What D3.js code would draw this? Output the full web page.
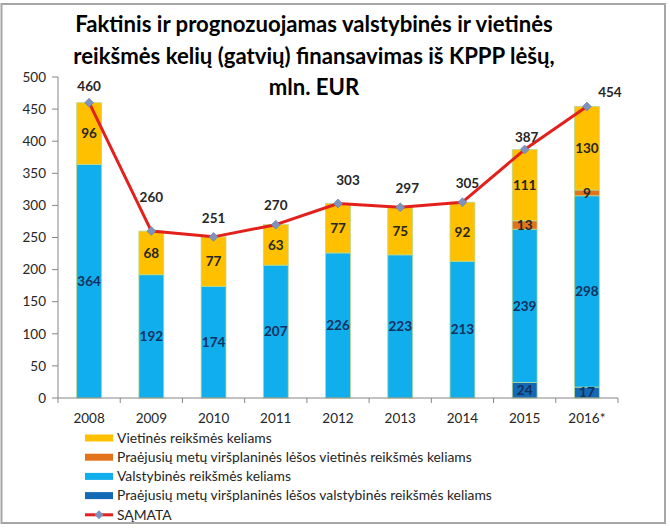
<!DOCTYPE html>
<html><head><meta charset="utf-8">
<script src="https://cdn.jsdelivr.net/npm/d3@7"></script>
<style>body{margin:0;background:#fff}svg{display:block}</style>
</head><body>
<script>
// ---------- DATA ----------
const years = ["2008","2009","2010","2011","2012","2013","2014","2015","2016*"];
const prevState = [0,0,0,0,0,0,0,24,17];          // Praėjusių metų viršplaninės lėšos valstybinės reikšmės keliams
const stateRoads = [364,192,174,207,226,223,213,239,298]; // Valstybinės reikšmės keliams
const prevLocal = [0,0,0,0,0,0,0,13,9];            // Praėjusių metų viršplaninės lėšos vietinės reikšmės keliams
const localRoads = [96,68,77,63,77,75,92,111,130]; // Vietinės reikšmės keliams
const samata = [460,260,251,270,303,297,305,387,454]; // SĄMATA
const yTicks = [0,50,100,150,200,250,300,350,400,450,500];
const titleLines = ["Faktinis ir prognozuojamas valstybinės ir vietinės","reikšmės kelių (gatvių) finansavimas iš KPPP lėšų,","mln. EUR"];
const legendLabels = ["Vietinės reikšmės keliams","Praėjusių metų viršplaninės lėšos vietinės reikšmės keliams","Valstybinės reikšmės keliams","Praėjusių metų viršplaninės lėšos valstybinės reikšmės keliams","SĄMATA"];

// ---------- LAYOUT / STYLE ----------
const W = 670, H = 528;
const font = "Lato, 'Open Sans', sans-serif";
const colors = {prevState:"#1469B4", state:"#10AEEC", prevLocal:"#E2731C", local:"#FFC000", line:"#E3201C", marker:"#7D93BD"};
const labelNudge = [[0,-16],[0,-34],[0,-19],[0,-19],[10,-23],[7,-19],[5,-19],[2,-12],[23,-14]];

const svg = d3.select("body").append("svg").attr("width",W).attr("height",H);
svg.append("rect").attr("x",1.5).attr("y",4).attr("width",663.5).attr("height",519)
  .attr("fill","#fff").attr("stroke","#A6A6A6").attr("stroke-width",2);

const x = d3.scaleBand().domain(years).range([58,618]).paddingInner(0.6).paddingOuter(0.3);
const y = d3.scaleLinear().domain([0,500]).range([398,77]);

// fit helper
function fitSize(text, weight, target, base){
  const t = svg.append("text").style("font-family",font).style("font-weight",weight).style("font-size",base+"px").text(text);
  const w = t.node().getComputedTextLength(); t.remove();
  return base*target/w;
}

// title
const tSize = fitSize(titleLines[0],"bold",478,20);
svg.append("g").selectAll("text").data(titleLines).join("text")
  .attr("x",314).attr("y",(d,i)=>32+i*31.5).attr("text-anchor","middle")
  .style("font-family",font).style("font-weight","bold").style("font-size",tSize+"px").attr("fill","#000")
  .text(d=>d);

// stack
const rows = years.map((yr,i)=>({year:yr, prevState:prevState[i], state:stateRoads[i], prevLocal:prevLocal[i], local:localRoads[i]}));
const keys = ["prevState","state","prevLocal","local"];
const stack = d3.stack().keys(keys)(rows);
const labelColor = {prevState:"#14305C", state:"#13315E", prevLocal:"#262626", local:"#262626"};

const gBars = svg.append("g");
stack.forEach(layer=>{
  const k = layer.key;
  gBars.selectAll(null).data(layer.filter(d=>d[1]-d[0]>0)).join("rect")
    .attr("x",d=>x(d.data.year)).attr("width",x.bandwidth())
    .attr("y",d=>y(d[1])).attr("height",d=>y(d[0])-y(d[1]))
    .attr("fill",colors[k]).attr("stroke","#B9D98F").attr("stroke-width",0.8);
});
stack.forEach(layer=>{
  const k = layer.key;
  gBars.selectAll(null).data(layer.filter(d=>d[1]-d[0]>0)).join("text")
    .attr("x",d=>x(d.data.year)+x.bandwidth()/2).attr("y",d=>y((d[0]+d[1])/2)).attr("dy","0.36em")
    .attr("text-anchor","middle").style("font-family",font).style("font-weight","bold").style("font-size","13.5px")
    .attr("fill",labelColor[k]).text(d=>d[1]-d[0]);
});

// axes
const ax = svg.append("g");
ax.append("line").attr("x1",58).attr("x2",58).attr("y1",y(500)).attr("y2",y(0)).attr("stroke","#868686");
ax.append("line").attr("x1",58).attr("x2",618).attr("y1",y(0)).attr("y2",y(0)).attr("stroke","#868686");
ax.selectAll(".yt").data(yTicks).join("line").attr("x1",52).attr("x2",58).attr("y1",d=>y(d)).attr("y2",d=>y(d)).attr("stroke","#868686");
ax.selectAll(".yl").data(yTicks).join("text").attr("x",46).attr("y",d=>y(d)).attr("dy","0.35em").attr("text-anchor","end")
  .style("font-family",font).style("font-size","13.5px").attr("fill","#262626").text(d=>d);
ax.selectAll(".xt").data(d3.range(years.length+1)).join("line")
  .attr("x1",i=>58+i*(560/years.length)).attr("x2",i=>58+i*(560/years.length)).attr("y1",y(0)).attr("y2",y(0)+5).attr("stroke","#868686");
ax.selectAll(".xl").data(years).join("text").attr("x",d=>x(d)+x.bandwidth()/2).attr("y",418).attr("dy","0.35em")
  .attr("text-anchor","middle").style("font-family",font).style("font-size","13.5px").attr("fill","#262626").text(d=>d);

// line
const cx = (d,i)=>x(years[i])+x.bandwidth()/2;
svg.append("path").datum(samata).attr("fill","none").attr("stroke",colors.line).attr("stroke-width",3).attr("stroke-linejoin","round")
  .attr("d",d3.line().x((d,i)=>cx(d,i)).y(d=>y(d)));
const diamond = d3.symbol().type(d3.symbolSquare).size(40);
svg.selectAll(".mk").data(samata).join("path").attr("d",diamond)
  .attr("transform",(d,i)=>`translate(${cx(d,i)},${y(d)}) rotate(45)`).attr("fill",colors.marker).attr("stroke","#6A80AA").attr("stroke-width",0.6);
svg.selectAll(".ll").data(samata).join("text")
  .attr("x",(d,i)=>cx(d,i)+labelNudge[i][0]).attr("y",(d,i)=>y(d)+labelNudge[i][1]).attr("dy","0.35em").attr("text-anchor","middle")
  .style("font-family",font).style("font-weight","bold").style("font-size","13.5px").attr("fill","#262626").text(d=>d);

// legend
const lSize = fitSize(legendLabels[3],"normal",375,13);
const legColors = [colors.local,colors.prevLocal,colors.state,colors.prevState];
const lg = svg.append("g");
legendLabels.forEach((lab,i)=>{
  const yy = 438 + i*19.2;
  if(i<4){
    lg.append("rect").attr("x",85).attr("y",yy-3.5).attr("width",28).attr("height",7).attr("fill",legColors[i]);
  } else {
    lg.append("line").attr("x1",85).attr("x2",113).attr("y1",yy).attr("y2",yy).attr("stroke",colors.line).attr("stroke-width",3);
    lg.append("path").attr("d",diamond).attr("transform",`translate(99,${yy}) rotate(45)`).attr("fill",colors.marker);
  }
  lg.append("text").attr("x",117).attr("y",yy).attr("dy","0.35em").style("font-family",font).style("font-size",lSize+"px")
    .attr("fill","#262626").text(lab);
});
</script>
</body></html>
